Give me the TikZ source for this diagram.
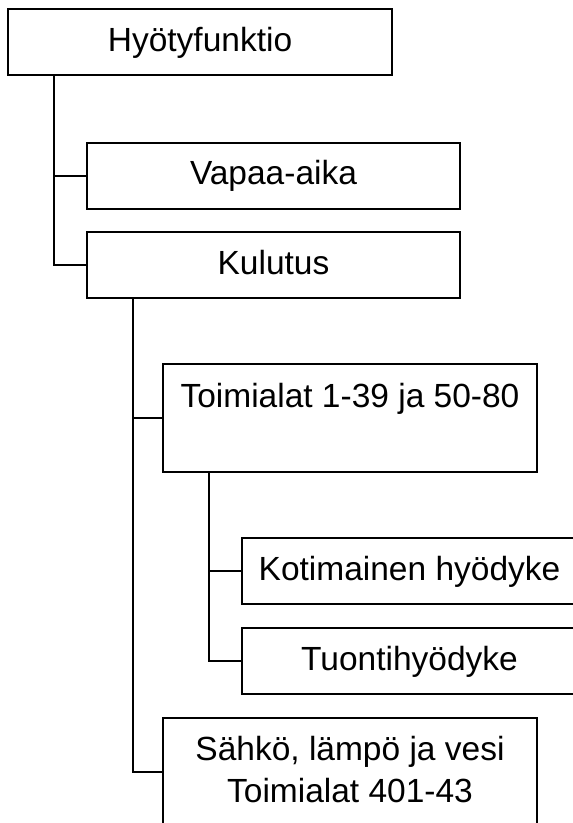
\documentclass[tikz,border=0pt]{standalone}
\usepackage{fontspec}
\setmainfont{Liberation Sans}
\usetikzlibrary{calc}
\begin{document}
\begin{tikzpicture}[x=1pt,y=-1pt,
  box/.style={draw=black,line width=2pt,rectangle,inner sep=0pt,outer sep=0pt,
    font=\fontsize{33.5}{42}\selectfont,text height=24pt,text depth=6pt,align=center},
  txt/.style={inner sep=0pt,outer sep=0pt,anchor=base,font=\fontsize{33.5}{42}\selectfont},
  conn/.style={draw=black,line width=2pt,line join=miter}]
\useasboundingbox (0,0) rectangle (573,823);
\clip (0,0) rectangle (573,823);
\node[box,minimum width=384pt,minimum height=66pt] (b1) at (200,42) {Hyötyfunktio};
\node[box,minimum width=373pt,minimum height=66pt] (b2) at (273.5,175.5) {Vapaa-aika};
\node[box,minimum width=373pt,minimum height=66pt] (b3) at (273.5,265) {Kulutus};
\node[box,minimum width=374pt,minimum height=108pt] (b4) at (350,418) {};
\node[txt] (t4) at (350,407) {Toimialat 1-39 ja 50-80};
\node[box,minimum width=335pt,minimum height=66pt] (b5) at (409.5,571) {Kotimainen hyödyke};
\node[box,minimum width=335pt,minimum height=66pt] (b6) at (409.5,661) {Tuontihyödyke};
\node[box,minimum width=374pt,minimum height=108pt] (b7) at (350,772) {};
\node[txt] (t7a) at (350,760) {Sähkö, lämpö ja vesi};
\node[txt] (t7b) at (350,802) {Toimialat 401-43};
\coordinate (r1) at ($(b1.south west)+(46,0)$);
\coordinate (r3) at ($(b3.south west)+(45.5,0)$);
\coordinate (r4) at ($(b4.south west)+(46,0)$);
\draw[conn] (r1) |- (b2.west);
\draw[conn] (r1) |- (b3.west);
\draw[conn] (r3) |- (b4.west);
\draw[conn] (r3) |- (b7.west);
\draw[conn] (r4) |- (b5.west);
\draw[conn] (r4) |- (b6.west);
\end{tikzpicture}
\end{document}
